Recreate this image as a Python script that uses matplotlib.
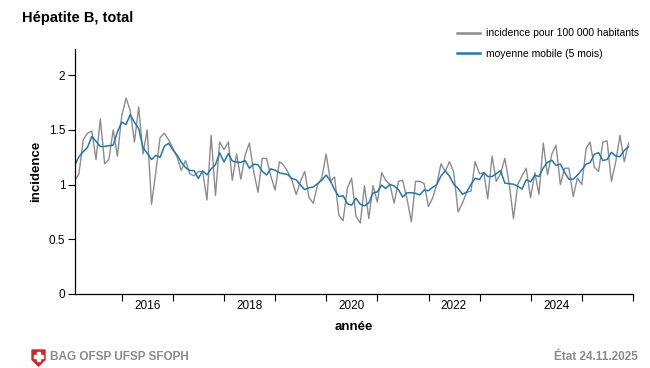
import numpy as np
import pandas as pd
import matplotlib
matplotlib.use("Agg")
import matplotlib.pyplot as plt
from matplotlib.patches import Polygon, Rectangle

plt.rcParams['font.family'] = ['Liberation Sans', 'DejaVu Sans']

# monthly incidence per 100 000 inhabitants
months = pd.date_range("2015-01-31", "2025-11-30", freq="ME")
incidence = [
    1.04, 1.10, 1.41, 1.47, 1.49, 1.23, 1.60, 1.19, 1.23, 1.50, 1.26, 1.63,
    1.79, 1.68, 1.39, 1.71, 1.28, 1.50, 0.82, 1.12, 1.43, 1.47, 1.41, 1.33,
    1.25, 1.13, 1.22, 1.10, 1.08, 1.12, 1.12, 0.86, 1.45, 0.90, 1.39, 1.32,
    1.39, 1.04, 1.28, 1.05, 1.27, 1.38, 1.12, 0.93, 1.24, 1.24, 1.08, 0.95,
    1.21, 1.18, 1.12, 1.04, 0.91, 1.03, 1.12, 0.88, 0.83, 1.00, 1.06, 1.28,
    1.03, 1.07, 0.72, 0.67, 0.97, 1.06, 0.71, 0.65, 0.99, 0.69, 0.99, 0.84,
    1.11, 1.04, 1.00, 0.83, 1.03, 1.04, 0.87, 0.66, 1.03, 1.03, 1.01, 0.80,
    0.88, 1.00, 1.19, 1.12, 1.21, 1.11, 0.75, 0.83, 0.93, 0.94, 1.21, 1.10,
    1.11, 0.87, 1.26, 1.03, 1.10, 1.24, 1.01, 0.69, 1.00, 1.08, 1.15, 0.88,
    1.11, 0.91, 1.38, 1.09, 1.28, 1.36, 1.00, 1.15, 1.15, 0.89, 1.06, 1.00,
    1.33, 1.39, 1.16, 1.12, 1.39, 1.40, 1.03, 1.21, 1.45, 1.21, 1.38,
]
# 5-month centred moving average of the series above
moving_avg = pd.Series(incidence).rolling(5, center=True, min_periods=1).mean()

year_ticks = [pd.Timestamp(f"{y}-01-01") for y in range(2016, 2027)]
year_labels = ["2016", "2018", "2020", "2022", "2024"]
y_ticks = [0, 0.5, 1, 1.5, 2]
y_ticklabels = ["0", "0.5", "1", "1.5", "2"]

fig = plt.figure(figsize=(6.5, 3.68), dpi=100)
ax = fig.add_axes([0.1154, 0.2011, 0.8584, 0.6657])

ax.plot(months, incidence, color="#8c8c8c", lw=1.0,
        label="incidence pour 100 000 habitants")
ax.plot(months, moving_avg, color="#1f78b0", lw=1.1,
        label="moyenne mobile (5 mois)")

ax.set_xlim(months[0], pd.Timestamp("2026-01-01"))
ax.set_ylim(0, 2.24)

ax.set_xticks(year_ticks)
ax.set_xticklabels([])
ax.set_xticks([pd.Timestamp(f"{y}-07-01") for y in year_labels], minor=True)
ax.set_xticklabels(year_labels, minor=True)
ax.tick_params(axis="x", which="major", length=5, width=0.8)
ax.tick_params(axis="x", which="minor", length=0, labelsize=8.5, pad=4)

ax.set_yticks(y_ticks)
ax.set_yticklabels(y_ticklabels)
ax.tick_params(axis="y", length=5, width=0.8, labelsize=8.5, pad=2)

for s in ["top", "right"]:
    ax.spines[s].set_visible(False)
for s in ["left", "bottom"]:
    ax.spines[s].set_linewidth(0.9)

ax.set_xlabel("année", fontsize=9.5, fontweight="bold", labelpad=7)
ax.set_ylabel("incidence", fontsize=9.5, fontweight="bold", labelpad=5)

fig.text(22 / 650, 1 - 18 / 368, "Hépatite B, total", fontsize=10.5,
         fontweight="bold", va="center", ha="left")

leg = fig.legend(loc="upper left", bbox_to_anchor=(448 / 650, 1 - 19 / 368),
                 frameon=False, fontsize=7.5, handlelength=2.2,
                 labelspacing=1.0, handletextpad=0.5)
for ln in leg.get_lines():
    ln.set_linewidth(1.8)

# footer: shield icon + source texts
sx, sy, w, h = 32 / 650, 1 - 350 / 368, 13 / 650, 16 / 368
shield = Polygon([(sx, sy), (sx + w, sy), (sx + w, sy - h * 0.6),
                  (sx + w / 2, sy - h), (sx, sy - h * 0.6)],
                 closed=True, transform=fig.transFigure, color="#d8232a")
fig.patches.append(shield)
cx, cy = sx + w / 2, sy - h * 0.42
fig.patches.append(Rectangle((cx - w * 0.33, cy - h * 0.09), w * 0.66, h * 0.18,
                             transform=fig.transFigure, color="white"))
fig.patches.append(Rectangle((cx - w * 0.11, cy - h * 0.28), w * 0.22, h * 0.56,
                             transform=fig.transFigure, color="white"))

fig.text(50 / 650, 1 - 357 / 368, "BAG OFSP UFSP SFOPH", fontsize=8.5,
         fontweight="bold", color="#8a8a8a", va="center", ha="left")
fig.text(638 / 650, 1 - 357 / 368, "État 24.11.2025", fontsize=8.5,
         fontweight="bold", color="#8a8a8a", va="center", ha="right")

fig.savefig("out.png", dpi=100)
